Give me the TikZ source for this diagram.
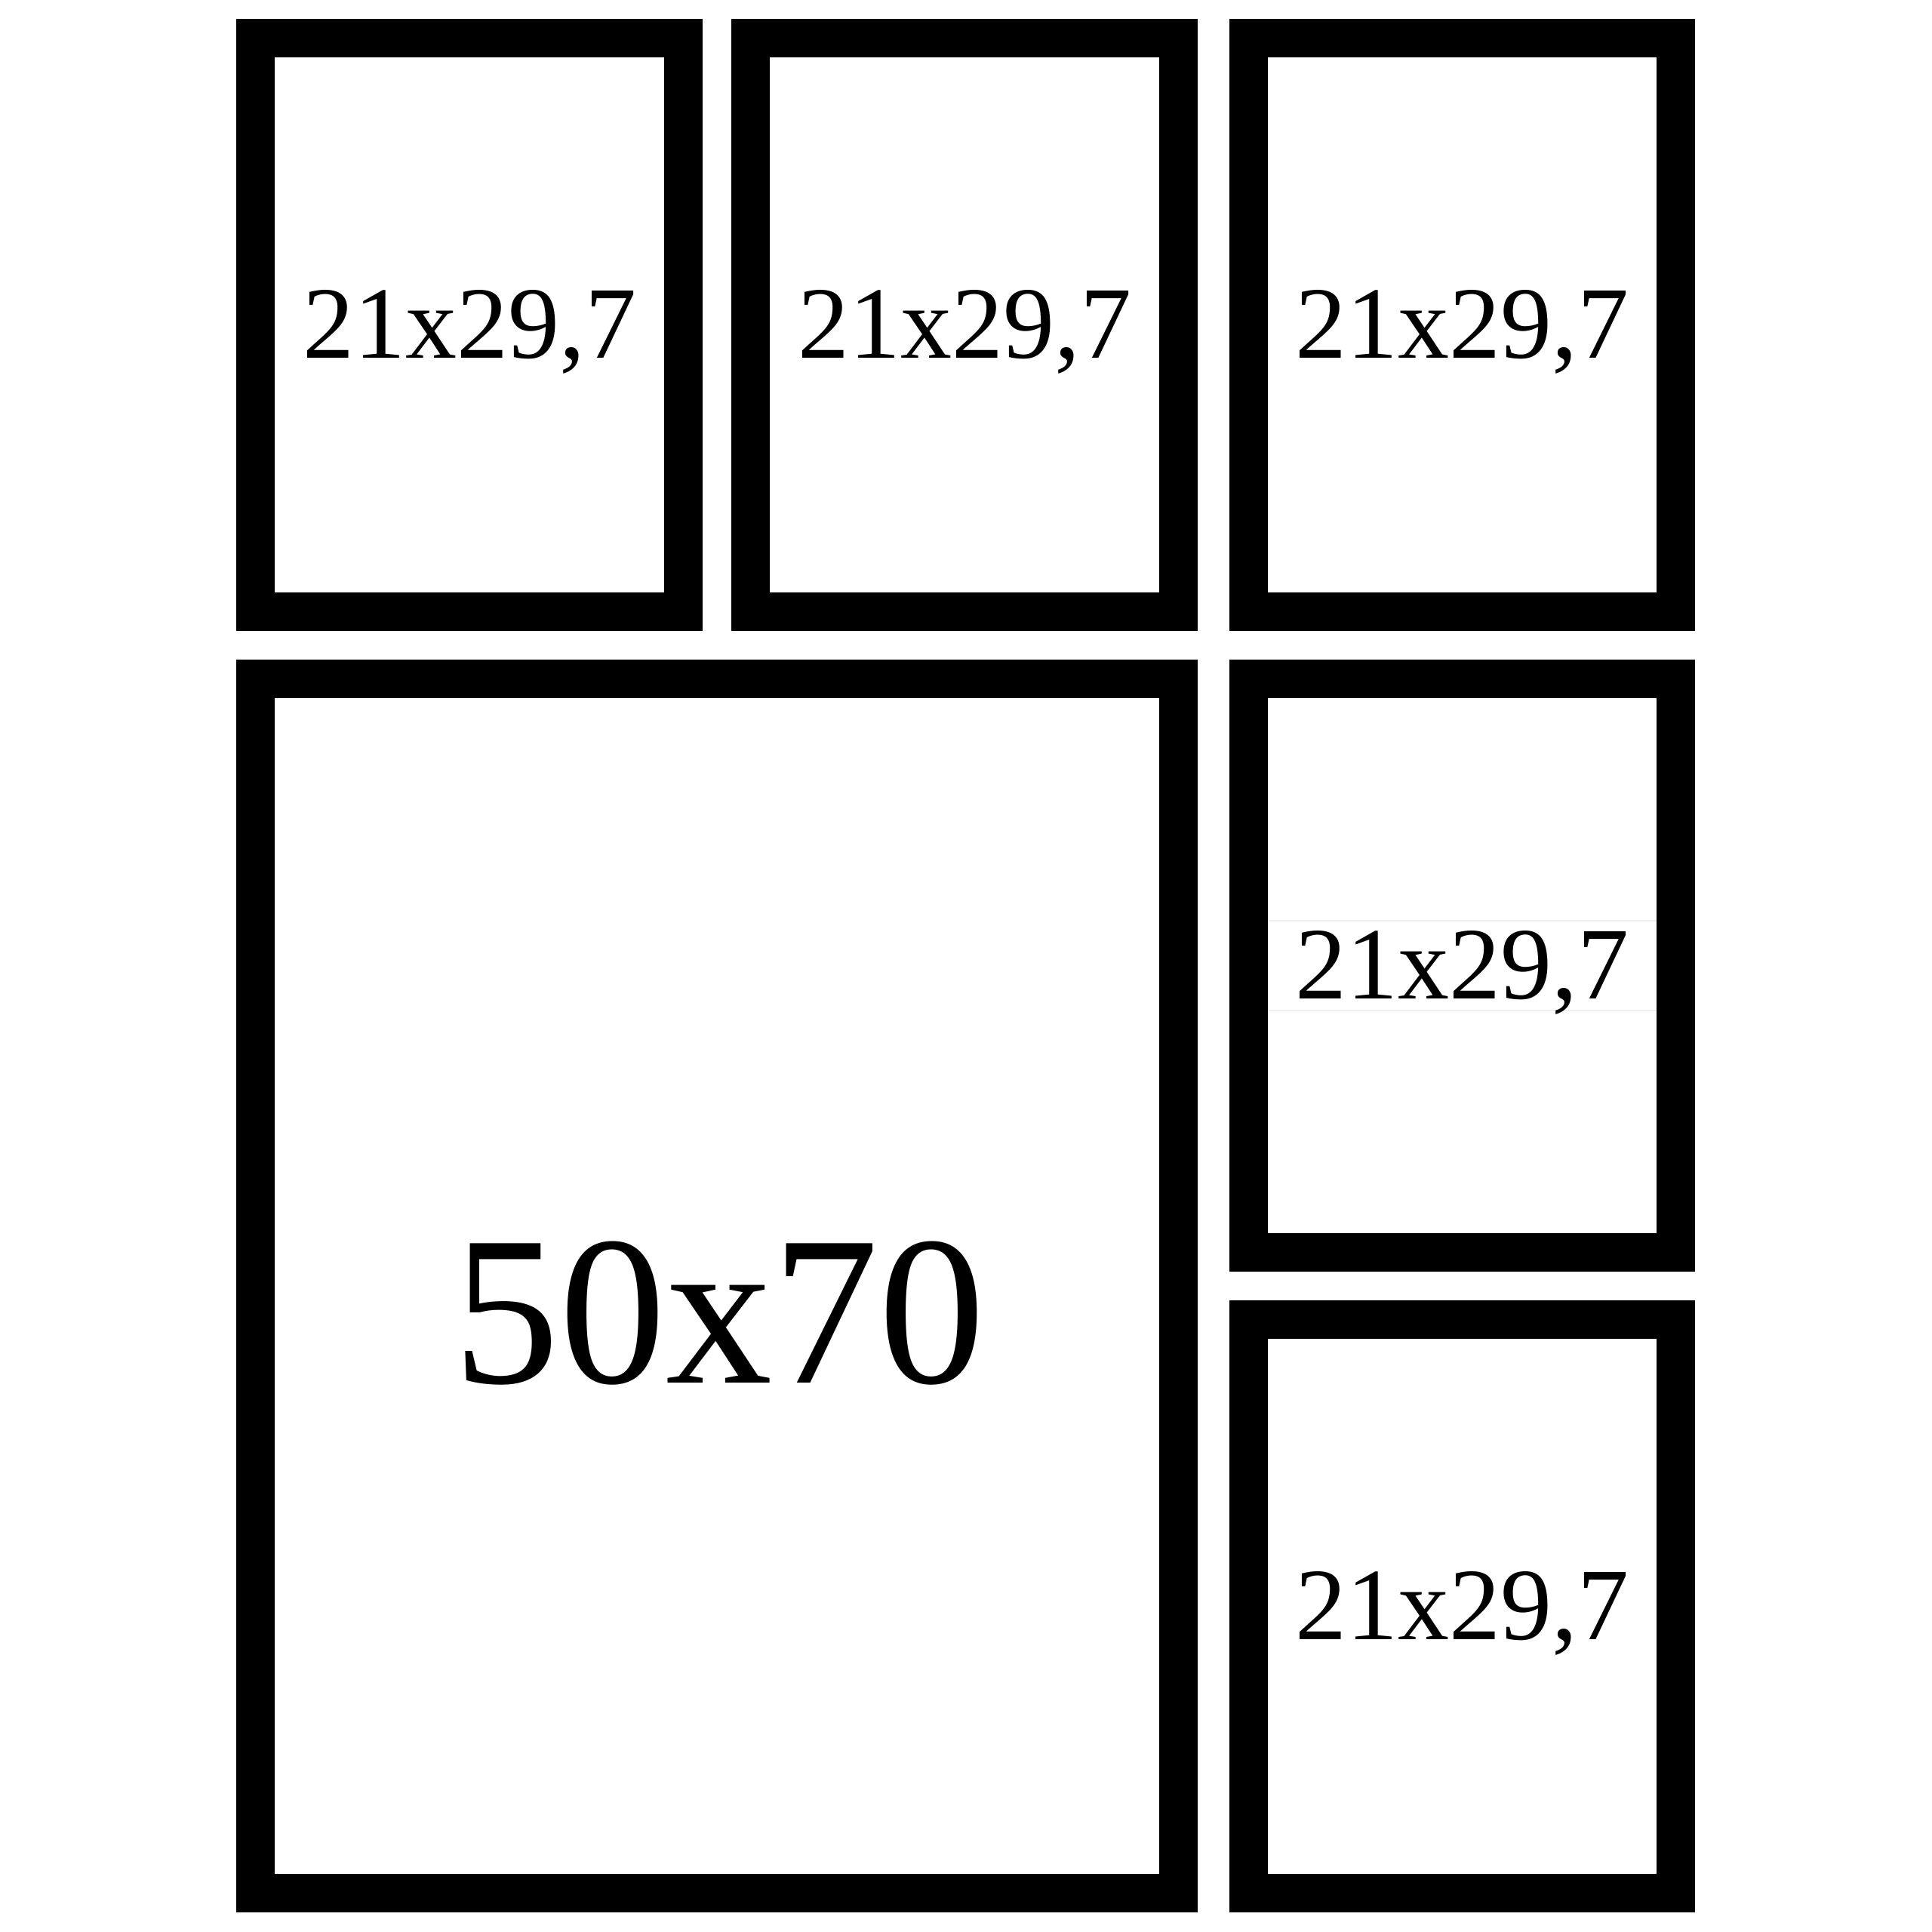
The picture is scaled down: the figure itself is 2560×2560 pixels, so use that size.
\documentclass[tikz,border=0pt]{standalone}
\usepackage{fontspec}
\setmainfont{Liberation Serif}
\begin{document}
\begin{tikzpicture}[x=1pt,y=-1pt,
  frame/.style={draw=black,line width=51pt,inner sep=0pt,minimum width=567pt,minimum height=760pt,fill=white},
  small/.style={anchor=base,inner sep=0pt,font=\fontsize{136}{140}\selectfont},
  big/.style={anchor=base,inner sep=0pt,font=\fontsize{282}{290}\selectfont}]
\useasboundingbox (0,0) rectangle (2560,2560);
\fill[white] (0,0) rectangle (2560,2560);
% frames
\node[frame] (f1) at (622,430.5) {};
\node[frame] (f2) at (1278,430.5) {};
\node[frame,minimum width=566pt] (f3) at (1937.5,430.5) {};
\node[frame,minimum width=1223pt,minimum height=1609pt] (fb) at (950,1704) {};
\node[frame,minimum width=566pt] (f5) at (1937.5,1279.5) {};
\node[frame,minimum width=566pt] (f6) at (1937.5,2128.5) {};
% faint box edges around frame 5 text
\draw[black!6,line width=2pt] (1680,1220) -- (2195,1220);
\draw[black!6,line width=2pt] (1680,1339) -- (2195,1339);
% labels
\node[small] (t1) at (622,474) {21x29,7};
\node[small] (t2) at (1278,474) {21x29,7};
\node[small] (t3) at (1937.5,474) {21x29,7};
\node[big] (tb) at (952.5,1832) {50x70};
\node[small] (t5) at (1937.5,1323) {21x29,7};
\node[small] (t6) at (1937.5,2172) {21x29,7};
\end{tikzpicture}
\end{document}
